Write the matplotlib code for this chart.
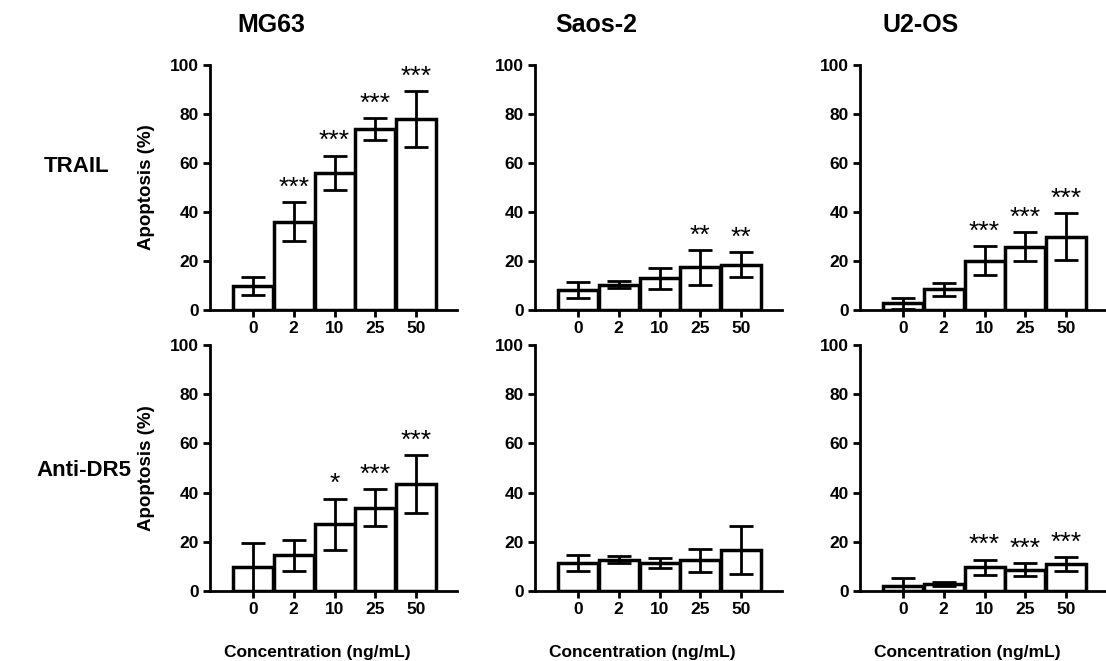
import numpy as np
import matplotlib
matplotlib.use("Agg")
import matplotlib.pyplot as plt
from matplotlib.transforms import blended_transform_factory

plt.rcParams['font.family'] = ['Liberation Sans', 'DejaVu Sans']

# ---- data ----
conc = ["0", "2", "10", "25", "50"]
cell_lines = ["MG63", "Saos-2", "U2-OS"]
treatments = ["TRAIL", "Anti-DR5"]

mg63_trail_mean = [9.8, 36.0, 56.0, 73.9, 78.0]
mg63_trail_err = [3.5, 8.0, 7.0, 4.5, 11.5]
mg63_trail_sig = ["", "***", "***", "***", "***"]

saos_trail_mean = [8.2, 10.3, 12.9, 17.5, 18.4]
saos_trail_err = [3.4, 1.5, 4.2, 7.1, 5.1]
saos_trail_sig = ["", "", "", "**", "**"]

u2os_trail_mean = [2.8, 8.4, 20.1, 25.8, 29.9]
u2os_trail_err = [2.2, 2.7, 6.0, 6.0, 9.5]
u2os_trail_sig = ["", "", "***", "***", "***"]

mg63_dr5_mean = [9.6, 14.5, 27.1, 33.9, 43.4]
mg63_dr5_err = [10.0, 6.3, 10.5, 7.5, 11.7]
mg63_dr5_sig = ["", "", "*", "***", "***"]

saos_dr5_mean = [11.3, 12.8, 11.4, 12.4, 16.7]
saos_dr5_err = [3.2, 1.3, 2.2, 4.7, 9.6]
saos_dr5_sig = ["", "", "", "", ""]

u2os_dr5_mean = [2.2, 3.0, 9.6, 8.7, 11.0]
u2os_dr5_err = [3.0, 0.8, 3.2, 2.6, 2.7]
u2os_dr5_sig = ["", "", "***", "***", "***"]

panels = [
    [(mg63_trail_mean, mg63_trail_err, mg63_trail_sig),
     (saos_trail_mean, saos_trail_err, saos_trail_sig),
     (u2os_trail_mean, u2os_trail_err, u2os_trail_sig)],
    [(mg63_dr5_mean, mg63_dr5_err, mg63_dr5_sig),
     (saos_dr5_mean, saos_dr5_err, saos_dr5_sig),
     (u2os_dr5_mean, u2os_dr5_err, u2os_dr5_sig)],
]

W, H = 1106, 661
fig = plt.figure(figsize=(W / 100, H / 100), dpi=100)

col_left = [210, 535, 860]
row_span = [(65, 310), (345, 591)]   # pixel top, bottom of each row
ax_w = 247

x = np.arange(len(conc))
for r, (top, bot) in enumerate(row_span):
    for c, left in enumerate(col_left):
        ax = fig.add_axes([left / W, (H - bot) / H, ax_w / W, (bot - top) / H])
        mean, err, sig = panels[r][c]
        ax.bar(x, mean, width=0.98, color="white", edgecolor="black", linewidth=2.5, zorder=2)
        ax.errorbar(x, mean, yerr=err, fmt="none", ecolor="black", elinewidth=2.0,
                    capsize=8.5, capthick=2.0, zorder=3)
        for xi, m, e, s in zip(x, mean, err, sig):
            if s:
                ax.text(xi, m + e + 3.0, s, ha="center", va="baseline", fontsize=19)
        ax.set_xlim(-1.05, 5.0)
        ax.set_ylim(0, 100)
        ax.set_yticks([0, 20, 40, 60, 80, 100])
        ax.set_xticks(x)
        ax.set_xticklabels(conc)
        for s in ("top", "right"):
            ax.spines[s].set_visible(False)
        for s in ("left", "bottom"):
            ax.spines[s].set_linewidth(2.0)
        ax.tick_params(axis="both", width=2.0, length=5, labelsize=12.5, pad=3)
        for lab in ax.get_xticklabels() + ax.get_yticklabels():
            lab.set_fontweight("bold")
        if c == 0:
            ax.set_ylabel("Apoptosis (%)", fontsize=13.5, fontweight="bold")
            ax.yaxis.set_label_coords(-0.223, 0.5)
        if r == 1:
            ax.set_xlabel("Concentration (ng/mL)", fontsize=12.5, fontweight="bold")
            ax.xaxis.set_label_coords(0.435, -0.22)
        if r == 0:
            ax.text(0.247, 1 - 25 / H, cell_lines[c],
                    transform=blended_transform_factory(ax.transAxes, fig.transFigure),
                    fontsize=18, fontweight="bold", ha="center", va="center")

fig.text(77 / W, 1 - 166 / H, treatments[0], fontsize=16, fontweight="bold",
         ha="center", va="center")
fig.text(84 / W, 1 - 470 / H, treatments[1], fontsize=16, fontweight="bold",
         ha="center", va="center")

fig.savefig("out.png", dpi=100)
